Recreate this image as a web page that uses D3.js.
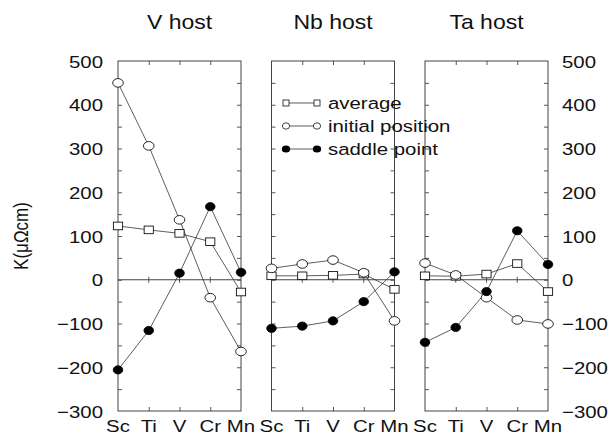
<!DOCTYPE html>
<html>
<head>
<meta charset="utf-8">
<script src="https://cdn.jsdelivr.net/npm/d3@7"></script>
<style>
  body { margin: 0; background: #fff; }
  svg { display: block; }
  text { font-family: "Liberation Sans", Arial, Helvetica, sans-serif; fill: #111; }
</style>
</head>
<body>
<svg id="chart" width="611" height="436"></svg>
<script>
// Solute elements along each panel's x axis
const elements = ["Sc", "Ti", "V", "Cr", "Mn"];
const hosts = ["V host", "Nb host", "Ta host"];
const yTicks = [-300, -200, -100, 0, 100, 200, 300, 400, 500];

// K (μΩcm) per host: V, Nb, Ta
const averageV = [123, 114, 106, 87, -28];
const averageNb = [9, 9, 10, 13, -22];
const averageTa = [9, 8, 13, 37, -27];

const initialV = [450, 306, 137, -41, -164];
const initialNb = [26, 36, 45, 16, -94];
const initialTa = [38, 11, -41, -92, -101];

const saddleV = [-206, -116, 15, 167, 17];
const saddleNb = [-111, -106, -94, -50, 18];
const saddleTa = [-143, -109, -27, 112, 35];

const seriesNames = ["average", "initial position", "saddle point"];
const seriesData = [
  [averageV, averageNb, averageTa],
  [initialV, initialNb, initialTa],
  [saddleV, saddleNb, saddleTa]
];

const svg = d3.select("#chart");
const STRETCH = 1.2;      // text is drawn slightly wide
const FS = 17;

const panelW = 123;
const panelLeft = d3.scalePoint().domain(hosts).range([118, 425]);
const y = d3.scaleLinear().domain([-300, 500]).range([411, 61]);

const frameColor = "#444";
const lineColor = "#333";

function wideText(sel, x, yy, str, anchor, size, stretch) {
  return sel.append("text")
    .attr("transform", `translate(${x},${yy}) scale(${stretch || STRETCH},1)`)
    .attr("text-anchor", anchor)
    .attr("font-size", size || FS)
    .text(str);
}

hosts.forEach((host, hi) => {
  const x0 = panelLeft(host);
  const x = d3.scalePoint().domain(elements).range([x0, x0 + panelW]);
  const g = svg.append("g");

  // frame
  g.append("rect")
    .attr("x", x0).attr("y", y(500))
    .attr("width", panelW).attr("height", y(-300) - y(500))
    .attr("fill", "none").attr("stroke", frameColor).attr("stroke-width", 1);

  // inward ticks on all four sides
  const yMinor = d3.range(-250, 500, 50);
  g.append("g").attr("transform", `translate(${x0},0)`)
    .call(d3.axisRight(y).tickValues(yMinor).tickSize(4).tickSizeOuter(0).tickFormat(""));
  g.append("g").attr("transform", `translate(${x0 + panelW},0)`)
    .call(d3.axisLeft(y).tickValues(yMinor).tickSize(4).tickSizeOuter(0).tickFormat(""));
  g.append("g").attr("transform", `translate(0,${y(500)})`)
    .call(d3.axisBottom(x).tickValues(["Ti", "V", "Cr"]).tickSize(4).tickSizeOuter(0).tickFormat(""));
  g.append("g").attr("transform", `translate(0,${y(-300)})`)
    .call(d3.axisTop(x).tickValues(["Ti", "V", "Cr"]).tickSize(4).tickSizeOuter(0).tickFormat(""));
  g.selectAll(".domain").remove();
  g.selectAll(".tick line").attr("stroke", frameColor).attr("stroke-width", 0.9);

  // zero line with small cross ticks
  g.append("line")
    .attr("x1", x0).attr("x2", x0 + panelW)
    .attr("y1", y(0)).attr("y2", y(0))
    .attr("stroke", frameColor).attr("stroke-width", 1);
  g.selectAll(".zt").data(["Ti", "V", "Cr"]).join("line")
    .attr("x1", d => x(d)).attr("x2", d => x(d))
    .attr("y1", y(0) - 3).attr("y2", y(0) + 3)
    .attr("stroke", frameColor).attr("stroke-width", 0.9);

  // panel title
  wideText(svg, x0 + panelW / 2, 29, host, "middle", 20, 1.15);

  // element labels
  elements.forEach(el => wideText(svg, x(el), 432, el, "middle", FS));

  // series lines
  const line = d3.line().x((d, i) => x(elements[i])).y(d => y(d));
  seriesData.forEach(s => {
    g.append("path").datum(s[hi]).attr("d", line)
      .attr("fill", "none").attr("stroke", lineColor).attr("stroke-width", 0.8);
  });

  // markers: squares (average), open circles (initial), filled circles (saddle)
  g.selectAll(".sq").data(seriesData[0][hi]).join("rect")
    .attr("x", (d, i) => x(elements[i]) - 4.6).attr("y", d => y(d) - 3.8)
    .attr("width", 9.2).attr("height", 7.6)
    .attr("fill", "#fff").attr("stroke", "#111").attr("stroke-width", 0.9);
  g.selectAll(".oc").data(seriesData[1][hi]).join("ellipse")
    .attr("cx", (d, i) => x(elements[i])).attr("cy", d => y(d))
    .attr("rx", 5.3).attr("ry", 4.3)
    .attr("fill", "#fff").attr("stroke", "#111").attr("stroke-width", 0.9);
  g.selectAll(".fc").data(seriesData[2][hi]).join("ellipse")
    .attr("cx", (d, i) => x(elements[i])).attr("cy", d => y(d))
    .attr("rx", 4.8).attr("ry", 4.1)
    .attr("fill", "#000").attr("stroke", "#000").attr("stroke-width", 0.8);
});

// value labels on outer axes
const fmt = d => (d < 0 ? "\u2212" + Math.abs(d) : String(d));
const leftAx = svg.append("g").attr("transform", `translate(${panelLeft(hosts[0])},0)`)
  .call(d3.axisLeft(y).tickValues(yTicks).tickSize(0).tickFormat(fmt));
const rightAx = svg.append("g").attr("transform", `translate(${panelLeft(hosts[2]) + panelW},0)`)
  .call(d3.axisRight(y).tickValues(yTicks).tickSize(0).tickFormat(fmt));
[leftAx, rightAx].forEach(ax => ax.select(".domain").remove());
leftAx.selectAll("text")
  .attr("x", null).attr("dy", "0.36em")
  .attr("font-size", FS).attr("font-family", null)
  .attr("transform", `translate(-15,0) scale(${STRETCH},1)`);
rightAx.selectAll("text")
  .attr("x", null).attr("dy", "0.36em")
  .attr("font-size", FS).attr("font-family", null)
  .attr("transform", `translate(14,0) scale(${STRETCH},1)`);

// y-axis title
svg.append("text")
  .attr("transform", `translate(28,${(y(500) + y(-300)) / 2}) rotate(-90) scale(1,${STRETCH})`)
  .attr("text-anchor", "middle")
  .attr("font-size", 17)
  .text("K(\u03bc\u03a9cm)");

// legend inside the middle panel
const legX = 286, legX2 = 317, legTextX = 328;
const legY = [103, 126, 149];
const leg = svg.append("g");
seriesNames.forEach((name, i) => {
  leg.append("line")
    .attr("x1", legX).attr("x2", legX2).attr("y1", legY[i]).attr("y2", legY[i])
    .attr("stroke", lineColor).attr("stroke-width", 0.8);
  [legX, legX2].forEach(cx => {
    if (i === 0) {
      leg.append("rect").attr("x", cx - 3).attr("y", legY[i] - 3)
        .attr("width", 6).attr("height", 6)
        .attr("fill", "#fff").attr("stroke", "#111").attr("stroke-width", 0.8);
    } else if (i === 1) {
      leg.append("ellipse").attr("cx", cx).attr("cy", legY[i])
        .attr("rx", 3.6).attr("ry", 3.2)
        .attr("fill", "#fff").attr("stroke", "#111").attr("stroke-width", 0.8);
    } else {
      leg.append("ellipse").attr("cx", cx).attr("cy", legY[i])
        .attr("rx", 4.2).attr("ry", 3.6).attr("fill", "#000");
    }
  });
  wideText(leg, legTextX, legY[i] + 6, name, "start", 17);
});
</script>
</body>
</html>
